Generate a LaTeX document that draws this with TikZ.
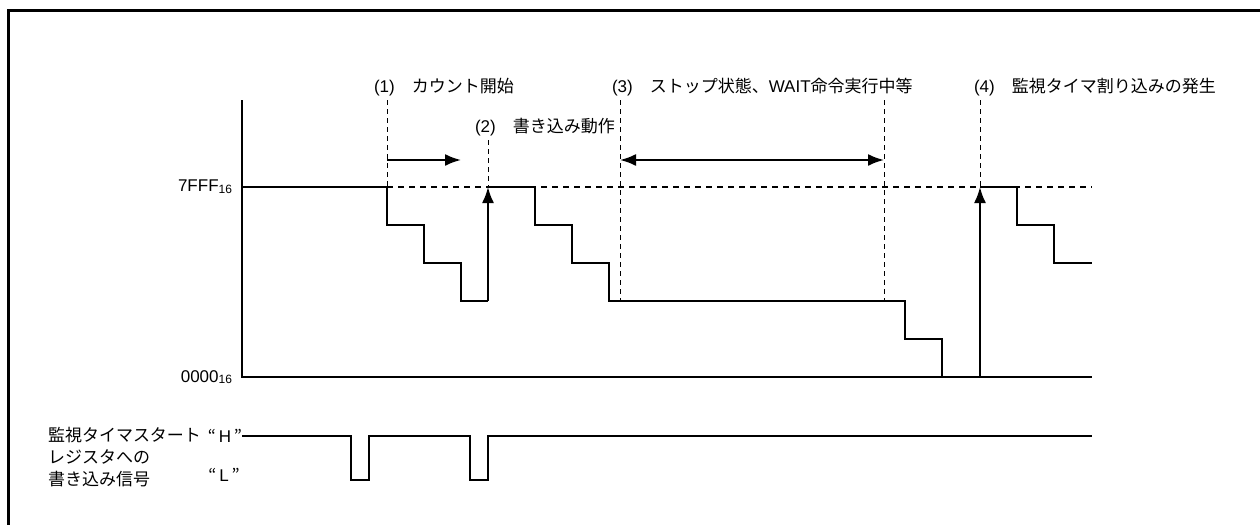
\documentclass[tikz,border=0pt]{standalone}
\usepackage{fontspec}
\setmainfont{Noto Sans CJK JP}
\newfontfamily\latin{Liberation Sans}
\usetikzlibrary{arrows.meta}
\newcommand{\hexsub}[1]{\raisebox{-0.8pt}{\fontsize{6}{6}\selectfont #1}}

\begin{document}
\begin{tikzpicture}[x=0.5pt,y=-0.5pt,line width=1pt,
every node/.style={font=\fontsize{8.5}{10.8}\selectfont,inner sep=0pt},
marker/.style={line width=0.5pt,dash pattern=on 2.5pt off 2pt},
level/.style={line width=0.6pt,dash pattern=on 3pt off 2.5pt},
pointer/.style={-{Latex[length=8pt,width=6pt]}},
span/.style={{Latex[length=8pt,width=6pt]}-{Latex[length=8pt,width=6pt]}}]
\useasboundingbox (0,0) rectangle (1260,525);
% frame, only its top and left sides show
\draw[line width=1.5pt] (8,525) -- (8,10) -- (1260,10);

% counter axis and its two levels
\coordinate (axis top) at (242,100);
\coordinate (axis bottom) at (242,377);
\coordinate (full end) at (1092,187);
\coordinate (zero end) at (1092,377);
\node [anchor=east] (full label) at (233,187) {\latin 7FFF\hexsub{16}};
\node [anchor=east] (zero label) at (233,377) {\latin 0000\hexsub{16}};
\draw (axis top) -- (axis bottom) -- (zero end);
\draw [level] (387,187) -- (full end);

% event markers
\foreach \event/\x/\top/\bottom in {1/387/100/187,2/488/140/187,3/620/100/301,4/980/100/187}
{
\coordinate (event top \event) at (\x,\top);
\coordinate (event bottom \event) at (\x,\bottom);
\draw [marker] (event top \event) -- (event bottom \event);
}
\coordinate (stop top) at (884,100);
\coordinate (stop bottom) at (884,301);
\draw [marker] (stop top) -- (stop bottom);

\node [anchor=west] (label 1) at (373,87) {{\latin (1)}　カウント開始};
\node [anchor=west] (label 2) at (474,127) {{\latin (2)}　書き込み動作};
\node [anchor=west] (label 3) at (611,87) {{\latin (3)}　ストップ状態、{\latin WAIT}命令実行中等};
\node [anchor=west] (label 4) at (973,87) {{\latin (4)}　監視タイマ割り込みの発生};

% counter value
\draw (242,187) -- (387,187) -- (387,225) -- (424,225) -- (424,263) -- (461,263) -- (461,301) -- (488,301);
\draw (488,187) -- (535,187) -- (535,225) -- (572,225) -- (572,263) -- (609,263) -- (609,301) -- (905,301)
-- (905,339) -- (942,339) -- (942,377) -- (980,377);
\draw (980,187) -- (1017,187) -- (1017,225) -- (1054,225) -- (1054,263) -- (1092,263);

% reloads and durations
\coordinate (reload 2) at (488,301);
\coordinate (reload 4) at (980,377);
\draw [pointer] (reload 2) -- (event bottom 2);
\draw [pointer] (reload 4) -- (event bottom 4);
\coordinate (count from) at (387,160);
\coordinate (count to) at (461,160);
\draw [pointer] (count from) -- (count to);
\draw [span] (event top 3|-count from) -- (stop top|-count from);

% write signal
\node [anchor=west,align=left] (signal label) at (47,457) {監視タイマスタート\\レジスタへの\\書き込み信号};
\node (high label) at (225,436) {“\,{\latin H}\,”};
\node (low label) at (224,475) {“\,{\latin L}\,”};
\draw (242,436) -- (351,436) -- (351,480) -- (369,480) -- (369,436) -- (470,436) -- (470,480) -- (488,480)
-- (488,436) -- (1092,436);
\end{tikzpicture}
\end{document}
